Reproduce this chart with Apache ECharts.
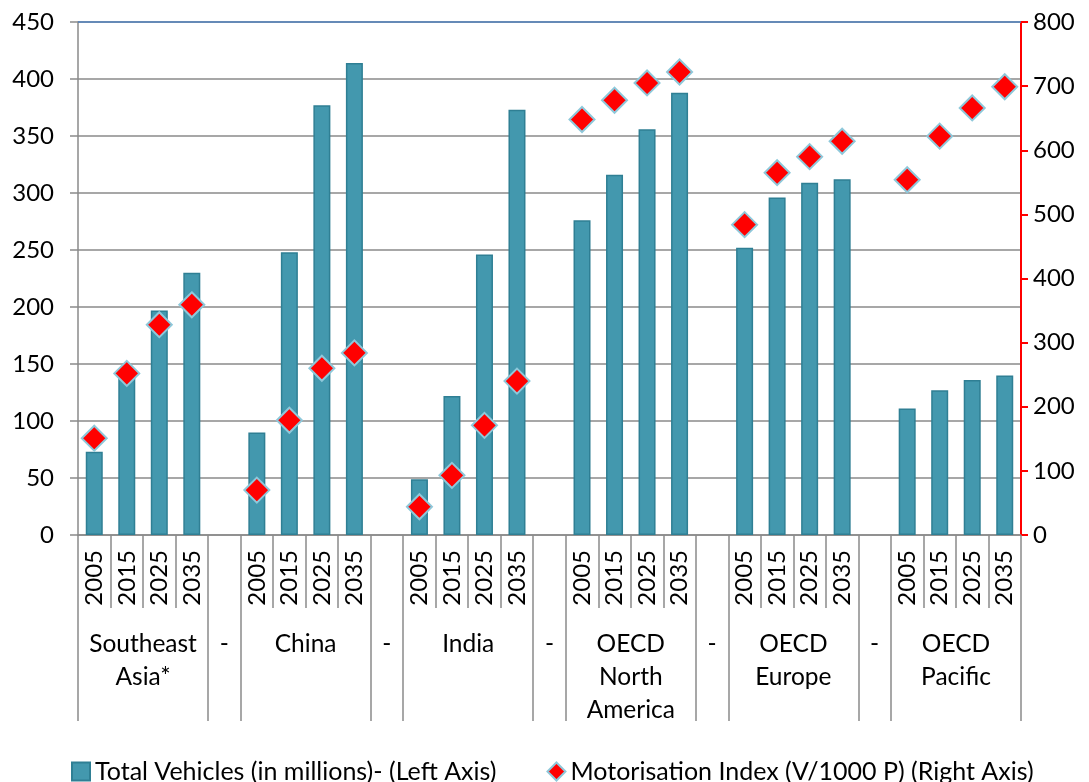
<!DOCTYPE html>
<html>
<head>
<meta charset="utf-8">
<script src="https://cdn.jsdelivr.net/npm/echarts@6/dist/echarts.min.js"></script>
<style>
  html, body { margin: 0; padding: 0; background: #fff; }
  #chart { width: 1089px; height: 782px; }
</style>
</head>
<body>
<div id="chart"></div>
<script>
  // regions and years
  var regions = ['Southeast\nAsia*', 'China', 'India', 'OECD\nNorth\nAmerica', 'OECD\nEurope', 'OECD\nPacific'];
  var years = ['2005', '2015', '2025', '2035'];
  // total vehicles, millions (left axis), 4 years per region
  var totalVehicles = [73, 138, 197, 230,  90, 248, 377, 414,  49, 122, 246, 373,
                       276, 316, 356, 388,  252, 296, 309, 312,  111, 127, 136, 140];
  // motorisation index, vehicles per 1000 people (right axis)
  var motorIndex = [151, 252, 328, 359,  70, 179, 260, 284,  44, 93, 171, 240,
                    648, 678, 705, 722,  484, 565, 590, 614,  554, 622, 666, 699];
  var leftTicks = [0, 450, 50];
  var rightTicks = [0, 800, 100];

  var FONT = 'Lato';
  var gray = '#8a8a8a';

  // build the 29 slots: 4 years per region, a "-" spacer between regions
  var cats = [], barData = [], dotData = [];
  var bounds = [0], centers = [], centerNames = {};
  regions.forEach(function (r, gi) {
    var start = cats.length;
    years.forEach(function (y, yi) {
      cats.push(y);
      barData.push(totalVehicles[gi * 4 + yi]);
      dotData.push(motorIndex[gi * 4 + yi]);
    });
    centers.push(start + 2);
    centerNames[start + 2] = r;
    bounds.push(cats.length);
    if (gi < regions.length - 1) {
      cats.push('');
      barData.push(null);
      dotData.push(null);
      centers.push(cats.length - 0.5);
      centerNames[cats.length - 0.5] = '-';
      bounds.push(cats.length);
    }
  });

  var myChart = echarts.init(document.getElementById('chart'));
  myChart.setOption({
    animation: false,
    textStyle: { fontFamily: FONT },
    grid: { left: 78, right: 68, top: 22, bottom: 247 },
    legend: {
      left: 66,
      top: 754,
      itemGap: 50,
      itemWidth: 18,
      itemHeight: 18,
      textStyle: { fontFamily: FONT, fontSize: 25, color: '#000' },
      data: [
        { name: 'Total Vehicles (in millions)- (Left Axis)', icon: 'rect' },
        { name: 'Motorisation Index (V/1000 P) (Right Axis)', icon: 'diamond' }
      ]
    },
    xAxis: [
      {
        type: 'category',
        data: cats,
        axisLine: { lineStyle: { color: gray, width: 1.5 } },
        axisTick: { show: true, interval: 0, length: 73, lineStyle: { color: gray, width: 1.5 } },
        axisLabel: { interval: 0, rotate: 90, margin: 15, fontSize: 24, color: '#000', fontFamily: FONT }
      },
      {
        type: 'value',
        min: 0,
        max: cats.length,
        position: 'bottom',
        axisLine: { show: false },
        splitLine: { show: false },
        axisTick: { show: true, customValues: bounds, length: 186, lineStyle: { color: gray, width: 1.5 } },
        axisLabel: {
          customValues: centers,
          margin: 93,
          fontSize: 24.5,
          lineHeight: 33,
          color: '#000',
          fontFamily: FONT,
          formatter: function (v) { return centerNames[v] || ''; }
        }
      }
    ],
    yAxis: [
      {
        type: 'value',
        min: leftTicks[0], max: leftTicks[1], interval: leftTicks[2],
        axisLine: { show: true, lineStyle: { color: gray, width: 1.5 } },
        axisTick: { show: true, length: 8, lineStyle: { color: gray, width: 1.5 } },
        splitLine: { lineStyle: { color: gray, width: 1.5 } },
        axisLabel: { margin: 24, fontSize: 24, color: '#000', fontFamily: FONT }
      },
      {
        type: 'value',
        min: rightTicks[0], max: rightTicks[1], interval: rightTicks[2],
        position: 'right',
        axisLine: { show: true, lineStyle: { color: '#ff0000', width: 2 } },
        axisTick: { show: true, length: 7, lineStyle: { color: '#ff0000', width: 2 } },
        splitLine: { show: false },
        axisLabel: { margin: 12, fontSize: 24, color: '#000', fontFamily: FONT }
      }
    ],
    series: [
      {
        name: 'Total Vehicles (in millions)- (Left Axis)',
        type: 'bar',
        xAxisIndex: 0,
        yAxisIndex: 0,
        barWidth: 17,
        data: barData,
        itemStyle: { color: '#4398ae', borderColor: '#2f7f94', borderWidth: 1.5 },
        markLine: {
          silent: true,
          symbol: 'none',
          label: { show: false },
          lineStyle: { color: '#4f81bd', width: 1.5, type: 'solid' },
          data: [{ yAxis: leftTicks[1] }]
        }
      },
      {
        name: 'Motorisation Index (V/1000 P) (Right Axis)',
        type: 'scatter',
        xAxisIndex: 0,
        yAxisIndex: 1,
        symbol: 'diamond',
        symbolSize: 25,
        data: dotData,
        itemStyle: { color: '#ff0000', borderColor: '#8ec8da', borderWidth: 2, opacity: 1 },
        z: 5
      }
    ]
  });
</script>
</body>
</html>
